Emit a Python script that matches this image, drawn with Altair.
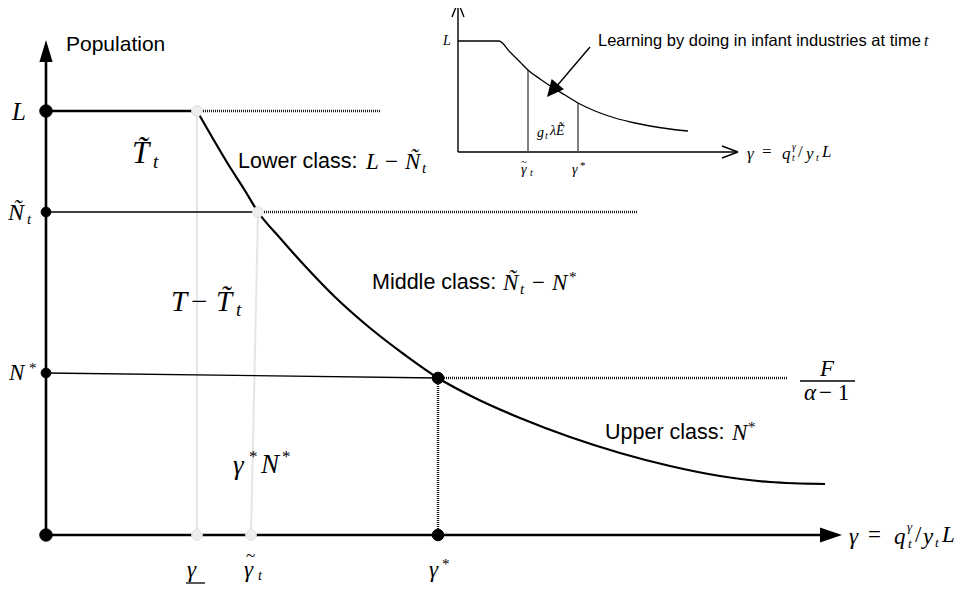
import altair as alt
import pandas as pd

W, H = 950, 576
XS = alt.Scale(domain=[8, 958], nice=False, zero=False)
YS = alt.Scale(domain=[584, 8], nice=False, zero=False)

# ---------------- data (diagram units) ----------------
# main schedule: gamma (x) vs population (y, measured downward)
curve_x = [197, 212, 228, 244, 258, 280, 305, 335, 370, 405, 438, 475, 520, 570, 620, 670, 720, 770, 825]
curve_y = [111, 137, 164, 189, 212, 238, 266, 297, 328, 355, 378, 398, 418, 437, 453, 466, 476, 482, 484]

# inset schedule
inset_x = [458, 499, 510, 520, 528, 540, 555, 565, 578, 595, 615, 635, 650, 670, 688]
inset_y = [41, 41, 52, 62, 70, 79, 89, 95, 103, 111, 118, 123, 126, 129, 131]

# segments: x, y, x2, y2
thick_segs = [(46, 535, 46, 58), (46, 535, 824, 535), (46, 111, 197, 111)]
thin_segs = [(46, 212, 258, 212), (46, 373, 438, 378), (800, 381, 855, 381), (186, 583, 205, 583)]
dot_segs = [(203, 111, 380, 111), (264, 212, 638, 212), (444, 378, 788, 378), (438, 378, 438, 535)]
gray_segs = [(197, 111, 197, 535), (258, 212, 251, 535)]
inset_segs = [(458, 152, 458, 2), (458, 152, 738, 152), (452, 17, 458, 2), (464, 17, 458, 2),
              (722, 146, 738, 152), (722, 158, 738, 152), (590, 47, 556, 87)]
inset_vsegs = [(528, 70, 528, 152), (578, 103, 578, 152)]

black_pts = [(46, 111, 155), (46, 535, 155), (438, 378, 135), (438, 535, 135), (46, 212, 95), (46, 373, 95)]
gray_pts = [(197, 111, 115), (258, 212, 115), (197, 535, 115), (251, 535, 115)]

sans_txt = [("Population", 66, 45, 21), ("Lower class:", 238, 162, 21.5), ("Middle class:", 372, 283, 21.5),
            ("Upper class:", 605, 433, 21.5), ("Learning by doing in infant industries at time", 598, 41, 16.5)]
ital_txt = [("L", 12, 112, 25), ("Ñ", 8, 213, 24), ("t", 27, 219, 15), ("N", 9, 373, 23),
            ("T\u0303", 132, 154, 31), ("t", 153, 162, 19),
            ("T", 171, 302, 29), ("T\u0303", 216, 302, 29), ("t", 236, 310, 19),
            ("γ", 233, 466, 27), ("N", 261, 465, 27),
            ("L", 366, 162, 23), ("Ñ", 405, 162, 23), ("t", 422, 168, 15),
            ("Ñ", 503, 283, 23), ("t", 520, 289, 15), ("N", 552, 283, 23),
            ("N", 732, 433, 23),
            ("F", 820, 369, 23), ("α", 804, 393, 23),
            ("γ", 849, 537, 23), ("q", 894, 537, 23), ("γ", 907, 527, 13), ("t", 908, 544, 13),
            ("y", 923, 537, 23), ("t", 935, 543, 13), ("L", 942, 535, 23),
            ("γ", 187, 570, 23), ("γ", 244, 570, 23), ("t", 258, 576, 14), ("γ", 429, 570, 23),
            ("g", 537, 133, 14), ("t", 545, 136, 10), ("λẼ", 550, 131, 14),
            ("γ", 521, 170, 14), ("t", 530, 173, 10), ("γ", 572, 170, 14),
            ("γ", 747, 154, 17), ("q", 782, 154, 17), ("γ", 792, 147, 10), ("t", 792, 158, 10),
            ("y", 806, 154, 17), ("t", 816, 158, 10), ("L", 822, 152, 17),
            ("L", 443, 41, 14), ("t", 924, 41, 16)]
rom_txt = [("*", 29, 368, 15), ("−", 191, 302, 29), ("*", 249, 457, 17), ("*", 282, 457, 17),
           ("−", 385, 162, 23), ("−", 532, 283, 23), ("*", 569, 277, 15), ("*", 748, 427, 15),
           ("− 1", 819, 393, 23), ("=", 868, 535, 23), ("/", 915, 535, 23),
           ("~", 246, 556, 17), ("~", 521, 162, 11),
           ("*", 442, 564, 15), ("*", 580, 166, 11), ("=", 762, 152, 17), ("/", 798, 152, 17)]

X = alt.X("x:Q", scale=XS, axis=None)
Y = alt.Y("y:Q", scale=YS, axis=None)
X2 = alt.X2("x2:Q")
Y2 = alt.Y2("y2:Q")


def seg_layer(segs, color, width, dash=None):
    df = pd.DataFrame(segs, columns=["x", "y", "x2", "y2"])
    kw = dict(color=color, strokeWidth=width)
    if dash:
        kw["strokeDash"] = dash
    return alt.Chart(df).mark_rule(**kw).encode(x=X, y=Y, x2=X2, y2=Y2)


def pt_layer(pts, fill, stroke):
    df = pd.DataFrame(pts, columns=["x", "y", "s"])
    return alt.Chart(df).mark_circle(color=fill, opacity=1, stroke=stroke, strokeWidth=1).encode(
        x=X, y=Y, size=alt.Size("s:Q", scale=None))


def txt_layer(rows, font, style, align="left"):
    df = pd.DataFrame(rows, columns=["t", "x", "y", "s"])
    return alt.Chart(df).mark_text(font=font, fontStyle=style, align=align, baseline="middle",
                                   color="black").encode(
        x=X, y=Y, text="t:N", size=alt.Size("s:Q", scale=None))


curve_df = pd.DataFrame({"x": curve_x, "y": curve_y, "o": range(len(curve_x))})
inset_df = pd.DataFrame({"x": inset_x, "y": inset_y, "o": range(len(inset_x))})

curve = alt.Chart(curve_df).mark_line(color="black", strokeWidth=2.2, interpolate="monotone").encode(
    x=X, y=Y, order="o:Q")
inset_curve = alt.Chart(inset_df).mark_line(color="black", strokeWidth=1.3, interpolate="monotone").encode(
    x=X, y=Y, order="o:Q")

head_df = pd.DataFrame({"x": [46], "y": [40]})
head_up = alt.Chart(head_df).mark_point(shape="M0,0L0.6,2L-0.6,2Z", filled=True, color="black",
                                        opacity=1, size=484).encode(x=X, y=Y)
head_r_df = pd.DataFrame({"x": [842], "y": [535]})
head_right = alt.Chart(head_r_df).mark_point(shape="M0,0L-2,-0.68L-2,0.68Z", filled=True, color="black",
                                             opacity=1, size=484).encode(x=X, y=Y)
head_a_df = pd.DataFrame({"x": [547], "y": [97]})
head_ann = alt.Chart(head_a_df).mark_point(shape="M0,0L1,2.1L-1,2.1Z", filled=True, color="black",
                                           opacity=1, size=256, angle=220).encode(x=X, y=Y)

layers = [
    seg_layer(gray_segs, "#e6e6e6", 2),
    seg_layer(thin_segs, "black", 1.3),
    seg_layer(thick_segs, "black", 2.6),
    seg_layer(dot_segs, "#1a1a1a", 2.4, [1, 1]),
    seg_layer(inset_segs, "black", 1.4),
    seg_layer(inset_vsegs, "#555555", 1.5),
    curve, inset_curve, head_up, head_right, head_ann,
    pt_layer(black_pts, "black", "black"),
    pt_layer(gray_pts, "#eeeeee", "#e0e0e0"),
    txt_layer(sans_txt, "Liberation Sans", "normal"),
    txt_layer(ital_txt, "Liberation Serif", "italic"),
    txt_layer(rom_txt, "Liberation Serif", "normal"),
]

chart = alt.layer(*layers).properties(
    width=W, height=H, autosize=alt.AutoSizeParams(type="none"), padding=0
).configure_view(stroke=None)

chart.save("out.html", embed_options={"renderer": "svg", "actions": False})
